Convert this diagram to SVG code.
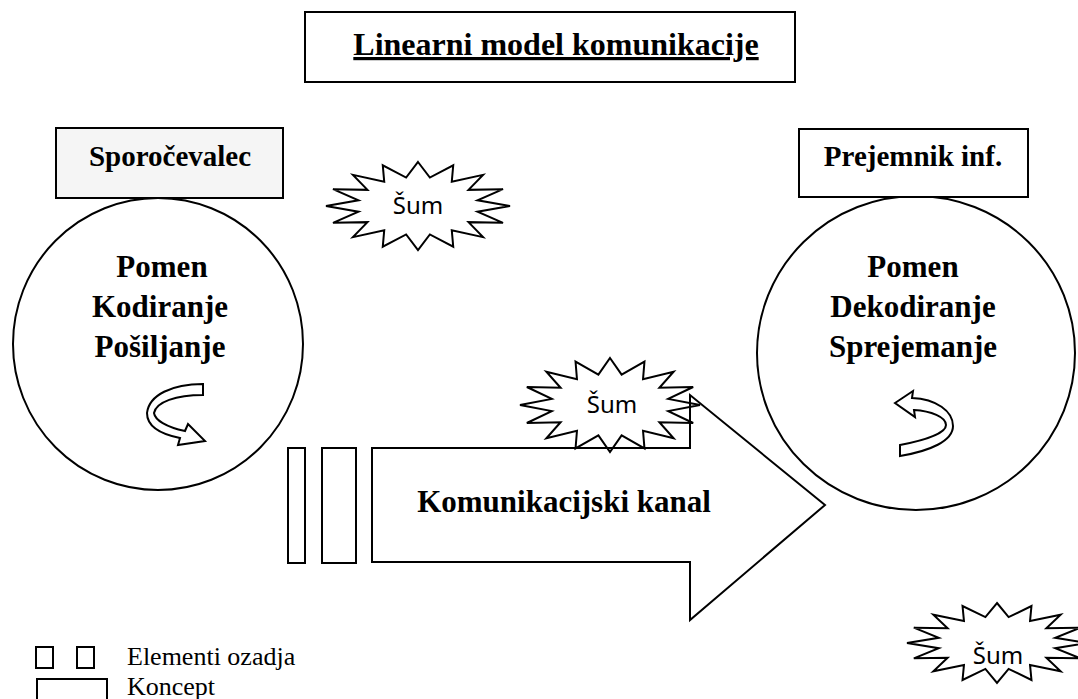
<svg xmlns="http://www.w3.org/2000/svg" width="1078" height="699" viewBox="0 0 1078 699">
<style>
.bx{fill:#fff;stroke:#000;stroke-width:2}
.ln{fill:none;stroke:#000;stroke-width:2}
.b{font-family:"Liberation Serif","Times New Roman",serif;font-weight:bold;fill:#000;text-anchor:middle}
.r{font-family:"Liberation Serif","Times New Roman",serif;fill:#000}
.s{font-family:"Noto Sans","Open Sans",sans-serif;font-size:24px;fill:#000;text-anchor:middle}
.st{fill:none;stroke:#000;stroke-width:2;stroke-linejoin:miter}
</style>
<defs>
<polygon id="star" vector-effect="non-scaling-stroke" points="0,-100 12.9,-64.7 38.3,-92.4 36.7,-54.9 70.7,-70.7 54.9,-36.7 92.4,-38.3 64.7,-12.9 100,0 64.7,12.9 92.4,38.3 54.9,36.7 70.7,70.7 36.7,54.9 38.3,92.4 12.9,64.7 0,100 -12.9,64.7 -38.3,92.4 -36.7,54.9 -70.7,70.7 -54.9,36.7 -92.4,38.3 -64.7,12.9 -100,0 -64.7,-12.9 -92.4,-38.3 -54.9,-36.7 -70.7,-70.7 -36.7,-54.9 -38.3,-92.4 -12.9,-64.7"/>
</defs>
<rect width="1078" height="699" fill="#fff"/>

<g id="title">
<rect class="bx" x="305" y="12" width="490" height="70"/>
<text class="b" x="556" y="55" font-size="32" text-decoration="underline">Linearni model komunikacije</text>
</g>

<g id="sender">
<ellipse class="ln" cx="158" cy="344" rx="145" ry="146"/>
<rect x="56" y="128" width="227" height="70" fill="#f5f5f5" stroke="#000" stroke-width="2"/>
<text class="b" x="170" y="166" font-size="29">Sporočevalec</text>
<text class="b" x="162" y="277" font-size="31">Pomen</text>
<text class="b" x="160" y="317" font-size="31">Kodiranje</text>
<text class="b" x="160" y="357" font-size="31">Pošiljanje</text>
<path class="ln" d="M203 384 C172 384 149 395 147 413 C147 426 160 434 180 438 L178 445 L205 441 L188 424 L185 431 C166 427 155 420 154 413 C156 402 176 395 203 395 Z"/>
</g>

<g id="receiver">
<ellipse class="ln" cx="916" cy="353" rx="159" ry="157"/>
<rect class="bx" x="799" y="129" width="229" height="68"/>
<text class="b" x="913" y="166" font-size="29">Prejemnik inf.</text>
<text class="b" x="913" y="277" font-size="31">Pomen</text>
<text class="b" x="913" y="317" font-size="31">Dekodiranje</text>
<text class="b" x="913" y="357" font-size="31">Sprejemanje</text>
<path class="ln" d="M895 403 L913 391 L912 398 C936 399 953 411 953 426 C953 441 930 451 900 456 L900 445 C926 440 946 433 946 425 C946 417 931 411 914 410 L915 417 Z"/>
</g>

<g id="channel">
<rect class="bx" x="288" y="448" width="17" height="115"/>
<rect class="bx" x="322" y="448" width="34" height="115"/>
<polygon class="bx" points="372,448 690,448 690,395 825,505 690,620 690,562 372,562"/>
<text class="b" x="564" y="512" font-size="31">Komunikacijski kanal</text>
</g>

<g id="noise1">
<use href="#star" class="st" transform="translate(418,206) scale(0.92,0.44)"/>
<text class="s" x="418" y="214">Šum</text>
</g>
<g id="noise2">
<use href="#star" class="st" transform="translate(610,405) scale(0.9,0.47)"/>
<text class="s" x="612" y="413">Šum</text>
</g>
<g id="noise3">
<use href="#star" class="st" transform="translate(997,643) scale(0.9,0.4)"/>
<text class="s" x="998" y="664">Šum</text>
</g>

<g id="legend">
<rect class="bx" x="36" y="647" width="17" height="21"/>
<rect class="bx" x="77" y="647" width="17" height="21"/>
<text class="r" x="127" y="665" font-size="26">Elementi ozadja</text>
<rect class="bx" x="37" y="679" width="70" height="30"/>
<text class="r" x="127" y="695" font-size="26">Koncept</text>
</g>
<g id="connectors"></g>
</svg>
